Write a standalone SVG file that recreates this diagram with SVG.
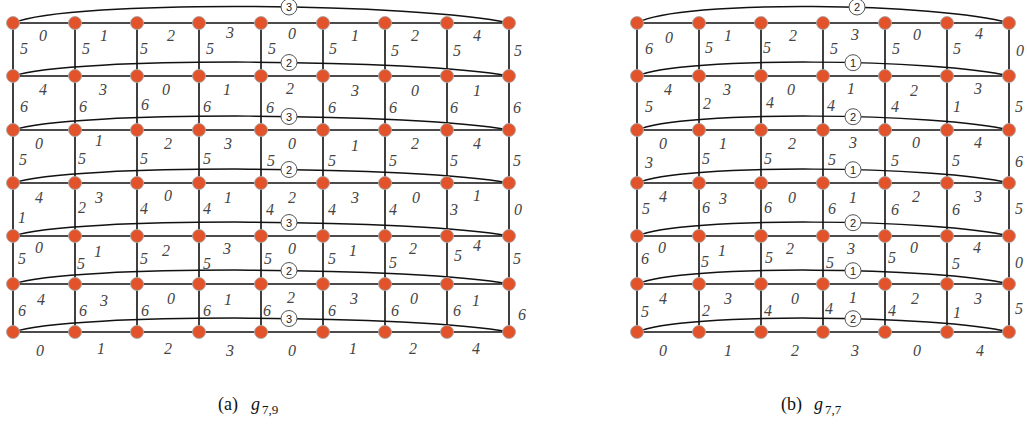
<svg xmlns="http://www.w3.org/2000/svg" width="1027" height="429" viewBox="0 0 1027 429">
<style>
.e{stroke:#111;stroke-width:1.6;fill:none}
.c{stroke:#111;stroke-width:1.5;fill:none}
.n{fill:#E2532B;stroke:#a8a8a8;stroke-width:0.9}
.lb text{font-family:'Liberation Serif','DejaVu Serif','Times New Roman',serif;font-style:italic;font-size:16px;fill:#444;text-anchor:middle}
.cl circle{fill:#fff;stroke:#555;stroke-width:1}
.cl text{font-family:'Liberation Sans','DejaVu Sans',sans-serif;font-size:11px;fill:#222;text-anchor:middle}
.cap text{font-family:'Liberation Serif','DejaVu Serif','Times New Roman',serif;font-size:18px;fill:#111}
.cap .g{font-style:italic}
.cap .s{font-size:13px}
</style>
<g id="connectors">
<g id="a-edges">
<path class="e" d="M13,23H509M13,76H509M13,130H509M13,183H509M13,236H509M13,284H509M13,332H509"/>
<path class="e" d="M13,23V332M75,23V332M137,23V332M199,23V332M261,23V332M323,23V332M385,23V332M447,23V332M509,23V332"/>
<path class="c" d="M13,23C70,-1 420,3 509,23"/>
<path class="c" d="M13,76C70,56 420,59 509,76"/>
<path class="c" d="M13,130C70,110 420,113 509,130"/>
<path class="c" d="M13,183C70,163 420,166 509,183"/>
<path class="c" d="M13,236C70,216 420,219 509,236"/>
<path class="c" d="M13,284C70,264 420,267 509,284"/>
<path class="c" d="M13,332C70,312 420,315 509,332"/>
</g>
<g id="b-edges">
<path class="e" d="M637,23H1009M637,76H1009M637,130H1009M637,183H1009M637,236H1009M637,284H1009M637,332H1009"/>
<path class="e" d="M637,23V332M699,23V332M761,23V332M823,23V332M885,23V332M947,23V332M1009,23V332"/>
<path class="c" d="M637,23C680,-1 940,3 1009,23"/>
<path class="c" d="M637,76C680,56 940,59 1009,76"/>
<path class="c" d="M637,130C680,110 940,113 1009,130"/>
<path class="c" d="M637,183C680,163 940,166 1009,183"/>
<path class="c" d="M637,236C680,216 940,219 1009,236"/>
<path class="c" d="M637,284C680,264 940,267 1009,284"/>
<path class="c" d="M637,332C680,312 940,315 1009,332"/>
</g>
<g class="cl" id="curve-labels">
<circle cx="289" cy="7" r="8"/><text x="289" y="11">3</text>
<circle cx="289" cy="62.5" r="8"/><text x="289" y="66.5">2</text>
<circle cx="289" cy="116.5" r="8"/><text x="289" y="120.5">3</text>
<circle cx="289" cy="169.5" r="8"/><text x="289" y="173.5">2</text>
<circle cx="289" cy="222.5" r="8"/><text x="289" y="226.5">3</text>
<circle cx="289" cy="270.5" r="8"/><text x="289" y="274.5">2</text>
<circle cx="289" cy="318.5" r="8"/><text x="289" y="322.5">3</text>
<circle cx="857" cy="7" r="8"/><text x="857" y="11">2</text>
<circle cx="853" cy="62.7" r="8"/><text x="853" y="66.7">1</text>
<circle cx="853" cy="116.7" r="8"/><text x="853" y="120.7">2</text>
<circle cx="853" cy="169.7" r="8"/><text x="853" y="173.7">1</text>
<circle cx="853" cy="222.7" r="8"/><text x="853" y="226.7">2</text>
<circle cx="853" cy="270.7" r="8"/><text x="853" y="274.7">1</text>
<circle cx="853" cy="318.7" r="8"/><text x="853" y="322.7">2</text>
</g>
</g>
<g id="a-labels" class="lb">
<text x="43" y="41">0</text><text x="104" y="41">1</text><text x="171" y="41">2</text><text x="230" y="38">3</text><text x="292" y="39">0</text><text x="355" y="41">1</text><text x="415" y="41">2</text><text x="477" y="41">4</text>
<text x="43" y="95">4</text><text x="103" y="95">3</text><text x="166" y="95">0</text><text x="227" y="95">1</text><text x="290" y="94">2</text><text x="355" y="96">3</text><text x="415" y="96">0</text><text x="477" y="96">1</text>
<text x="39" y="149">0</text><text x="99" y="146">1</text><text x="168" y="149">2</text><text x="228" y="149">3</text><text x="292" y="149">0</text><text x="355" y="151">1</text><text x="415" y="149">2</text><text x="477" y="149">4</text>
<text x="39" y="203">4</text><text x="99" y="203">3</text><text x="168" y="201">0</text><text x="228" y="203">1</text><text x="292" y="203">2</text><text x="355" y="203">3</text><text x="416" y="203">0</text><text x="477" y="201">1</text>
<text x="39" y="253">0</text><text x="98" y="257">1</text><text x="166" y="256">2</text><text x="227" y="254">3</text><text x="292" y="254">0</text><text x="353" y="256">1</text><text x="413" y="254">2</text><text x="477" y="251">4</text>
<text x="41" y="305">4</text><text x="104" y="306">3</text><text x="171" y="304">0</text><text x="228" y="305">1</text><text x="291" y="303">2</text><text x="354" y="304">3</text><text x="414" y="304">0</text><text x="476" y="306">1</text>
<text x="40" y="356">0</text><text x="101" y="354">1</text><text x="168" y="354">2</text><text x="230" y="356">3</text><text x="292" y="356">0</text><text x="353" y="354">1</text><text x="413" y="354">2</text><text x="476" y="354">4</text>
<text x="24" y="54">5</text><text x="86" y="54">5</text><text x="144" y="54">5</text><text x="210" y="54">5</text><text x="272" y="54">5</text><text x="333" y="54">5</text><text x="395" y="56">5</text><text x="457" y="56">5</text><text x="518" y="56">5</text>
<text x="24" y="112">6</text><text x="83" y="112">6</text><text x="145" y="110">6</text><text x="207" y="112">6</text><text x="270" y="113">6</text><text x="332" y="113">6</text><text x="393" y="113">6</text><text x="454" y="113">6</text><text x="517" y="113">6</text>
<text x="23" y="165">5</text><text x="82" y="164">5</text><text x="144" y="164">5</text><text x="207" y="164">5</text><text x="271" y="166">5</text><text x="332" y="166">5</text><text x="393" y="166">5</text><text x="454" y="166">5</text><text x="517" y="166">5</text>
<text x="22" y="223">1</text><text x="82" y="213">2</text><text x="144" y="214">4</text><text x="207" y="214">4</text><text x="270" y="215">4</text><text x="332" y="215">4</text><text x="393" y="215">4</text><text x="454" y="215">3</text><text x="518" y="215">0</text>
<text x="22" y="264">5</text><text x="81" y="269">5</text><text x="144" y="264">5</text><text x="207" y="269">5</text><text x="268" y="264">5</text><text x="332" y="264">5</text><text x="393" y="268">5</text><text x="458" y="261">5</text><text x="517" y="264">5</text>
<text x="22" y="316">6</text><text x="83" y="316">6</text><text x="145" y="316">6</text><text x="207" y="316">6</text><text x="267" y="316">6</text><text x="332" y="316">6</text><text x="395" y="316">6</text><text x="457" y="316">6</text><text x="522" y="320">6</text>
</g>
<g id="b-labels" class="lb">
<text x="669" y="43">0</text><text x="728" y="41">1</text><text x="793" y="41">2</text><text x="855" y="40">3</text><text x="917" y="40">0</text><text x="979" y="39">4</text>
<text x="668" y="95">4</text><text x="727" y="95">3</text><text x="791" y="95">0</text><text x="851" y="94">1</text><text x="914" y="96">2</text><text x="978" y="94">3</text>
<text x="663" y="149">0</text><text x="723" y="149">1</text><text x="792" y="149">2</text><text x="853" y="148">3</text><text x="916" y="148">0</text><text x="978" y="148">4</text>
<text x="663" y="202">4</text><text x="723" y="204">3</text><text x="792" y="203">0</text><text x="853" y="203">1</text><text x="916" y="202">2</text><text x="978" y="202">3</text>
<text x="662" y="253">0</text><text x="722" y="256">1</text><text x="790" y="254">2</text><text x="851" y="254">3</text><text x="914" y="253">0</text><text x="977" y="253">4</text>
<text x="663" y="304">4</text><text x="728" y="304">3</text><text x="795" y="304">0</text><text x="853" y="303">1</text><text x="915" y="304">2</text><text x="978" y="304">3</text>
<text x="663" y="356">0</text><text x="728" y="356">1</text><text x="795" y="356">2</text><text x="855" y="356">3</text><text x="917" y="356">0</text><text x="980" y="356">4</text>
<text x="649" y="54">6</text><text x="709" y="53">5</text><text x="767" y="53">5</text><text x="834" y="54">5</text><text x="896" y="54">5</text><text x="957" y="54">5</text><text x="1020" y="56">0</text>
<text x="649" y="112">5</text><text x="707" y="109">2</text><text x="770" y="108">4</text><text x="831" y="111">4</text><text x="895" y="112">4</text><text x="957" y="112">1</text><text x="1019" y="112">5</text>
<text x="649" y="168">3</text><text x="706" y="164">5</text><text x="768" y="164">5</text><text x="832" y="165">5</text><text x="895" y="166">5</text><text x="956" y="166">5</text><text x="1019" y="167">6</text>
<text x="646" y="214">5</text><text x="706" y="213">6</text><text x="768" y="213">6</text><text x="832" y="214">6</text><text x="895" y="215">6</text><text x="956" y="215">6</text><text x="1019" y="214">5</text>
<text x="645" y="264">6</text><text x="705" y="267">5</text><text x="769" y="263">5</text><text x="830" y="268">5</text><text x="892" y="263">5</text><text x="956" y="269">5</text><text x="1019" y="268">0</text>
<text x="645" y="317">5</text><text x="706" y="316">2</text><text x="768" y="316">4</text><text x="829" y="314">4</text><text x="892" y="316">4</text><text x="957" y="318">1</text><text x="1019" y="314">5</text>
</g>
<g id="a-nodes">
<g id="a-r0-c0"><circle class="n" cx="13" cy="23" r="6.5"/></g><g id="a-r0-c1"><circle class="n" cx="75" cy="23" r="6.5"/></g><g id="a-r0-c2"><circle class="n" cx="137" cy="23" r="6.5"/></g><g id="a-r0-c3"><circle class="n" cx="199" cy="23" r="6.5"/></g><g id="a-r0-c4"><circle class="n" cx="261" cy="23" r="6.5"/></g><g id="a-r0-c5"><circle class="n" cx="323" cy="23" r="6.5"/></g><g id="a-r0-c6"><circle class="n" cx="385" cy="23" r="6.5"/></g><g id="a-r0-c7"><circle class="n" cx="447" cy="23" r="6.5"/></g><g id="a-r0-c8"><circle class="n" cx="509" cy="23" r="6.5"/></g>
<g id="a-r1-c0"><circle class="n" cx="13" cy="76" r="6.5"/></g><g id="a-r1-c1"><circle class="n" cx="75" cy="76" r="6.5"/></g><g id="a-r1-c2"><circle class="n" cx="137" cy="76" r="6.5"/></g><g id="a-r1-c3"><circle class="n" cx="199" cy="76" r="6.5"/></g><g id="a-r1-c4"><circle class="n" cx="261" cy="76" r="6.5"/></g><g id="a-r1-c5"><circle class="n" cx="323" cy="76" r="6.5"/></g><g id="a-r1-c6"><circle class="n" cx="385" cy="76" r="6.5"/></g><g id="a-r1-c7"><circle class="n" cx="447" cy="76" r="6.5"/></g><g id="a-r1-c8"><circle class="n" cx="509" cy="76" r="6.5"/></g>
<g id="a-r2-c0"><circle class="n" cx="13" cy="130" r="6.5"/></g><g id="a-r2-c1"><circle class="n" cx="75" cy="130" r="6.5"/></g><g id="a-r2-c2"><circle class="n" cx="137" cy="130" r="6.5"/></g><g id="a-r2-c3"><circle class="n" cx="199" cy="130" r="6.5"/></g><g id="a-r2-c4"><circle class="n" cx="261" cy="130" r="6.5"/></g><g id="a-r2-c5"><circle class="n" cx="323" cy="130" r="6.5"/></g><g id="a-r2-c6"><circle class="n" cx="385" cy="130" r="6.5"/></g><g id="a-r2-c7"><circle class="n" cx="447" cy="130" r="6.5"/></g><g id="a-r2-c8"><circle class="n" cx="509" cy="130" r="6.5"/></g>
<g id="a-r3-c0"><circle class="n" cx="13" cy="183" r="6.5"/></g><g id="a-r3-c1"><circle class="n" cx="75" cy="183" r="6.5"/></g><g id="a-r3-c2"><circle class="n" cx="137" cy="183" r="6.5"/></g><g id="a-r3-c3"><circle class="n" cx="199" cy="183" r="6.5"/></g><g id="a-r3-c4"><circle class="n" cx="261" cy="183" r="6.5"/></g><g id="a-r3-c5"><circle class="n" cx="323" cy="183" r="6.5"/></g><g id="a-r3-c6"><circle class="n" cx="385" cy="183" r="6.5"/></g><g id="a-r3-c7"><circle class="n" cx="447" cy="183" r="6.5"/></g><g id="a-r3-c8"><circle class="n" cx="509" cy="183" r="6.5"/></g>
<g id="a-r4-c0"><circle class="n" cx="13" cy="236" r="6.5"/></g><g id="a-r4-c1"><circle class="n" cx="75" cy="236" r="6.5"/></g><g id="a-r4-c2"><circle class="n" cx="137" cy="236" r="6.5"/></g><g id="a-r4-c3"><circle class="n" cx="199" cy="236" r="6.5"/></g><g id="a-r4-c4"><circle class="n" cx="261" cy="236" r="6.5"/></g><g id="a-r4-c5"><circle class="n" cx="323" cy="236" r="6.5"/></g><g id="a-r4-c6"><circle class="n" cx="385" cy="236" r="6.5"/></g><g id="a-r4-c7"><circle class="n" cx="447" cy="236" r="6.5"/></g><g id="a-r4-c8"><circle class="n" cx="509" cy="236" r="6.5"/></g>
<g id="a-r5-c0"><circle class="n" cx="13" cy="284" r="6.5"/></g><g id="a-r5-c1"><circle class="n" cx="75" cy="284" r="6.5"/></g><g id="a-r5-c2"><circle class="n" cx="137" cy="284" r="6.5"/></g><g id="a-r5-c3"><circle class="n" cx="199" cy="284" r="6.5"/></g><g id="a-r5-c4"><circle class="n" cx="261" cy="284" r="6.5"/></g><g id="a-r5-c5"><circle class="n" cx="323" cy="284" r="6.5"/></g><g id="a-r5-c6"><circle class="n" cx="385" cy="284" r="6.5"/></g><g id="a-r5-c7"><circle class="n" cx="447" cy="284" r="6.5"/></g><g id="a-r5-c8"><circle class="n" cx="509" cy="284" r="6.5"/></g>
<g id="a-r6-c0"><circle class="n" cx="13" cy="332" r="6.5"/></g><g id="a-r6-c1"><circle class="n" cx="75" cy="332" r="6.5"/></g><g id="a-r6-c2"><circle class="n" cx="137" cy="332" r="6.5"/></g><g id="a-r6-c3"><circle class="n" cx="199" cy="332" r="6.5"/></g><g id="a-r6-c4"><circle class="n" cx="261" cy="332" r="6.5"/></g><g id="a-r6-c5"><circle class="n" cx="323" cy="332" r="6.5"/></g><g id="a-r6-c6"><circle class="n" cx="385" cy="332" r="6.5"/></g><g id="a-r6-c7"><circle class="n" cx="447" cy="332" r="6.5"/></g><g id="a-r6-c8"><circle class="n" cx="509" cy="332" r="6.5"/></g>
</g>
<g id="b-nodes">
<g id="b-r0-c0"><circle class="n" cx="637" cy="23" r="6.5"/></g><g id="b-r0-c1"><circle class="n" cx="699" cy="23" r="6.5"/></g><g id="b-r0-c2"><circle class="n" cx="761" cy="23" r="6.5"/></g><g id="b-r0-c3"><circle class="n" cx="823" cy="23" r="6.5"/></g><g id="b-r0-c4"><circle class="n" cx="885" cy="23" r="6.5"/></g><g id="b-r0-c5"><circle class="n" cx="947" cy="23" r="6.5"/></g><g id="b-r0-c6"><circle class="n" cx="1009" cy="23" r="6.5"/></g>
<g id="b-r1-c0"><circle class="n" cx="637" cy="76" r="6.5"/></g><g id="b-r1-c1"><circle class="n" cx="699" cy="76" r="6.5"/></g><g id="b-r1-c2"><circle class="n" cx="761" cy="76" r="6.5"/></g><g id="b-r1-c3"><circle class="n" cx="823" cy="76" r="6.5"/></g><g id="b-r1-c4"><circle class="n" cx="885" cy="76" r="6.5"/></g><g id="b-r1-c5"><circle class="n" cx="947" cy="76" r="6.5"/></g><g id="b-r1-c6"><circle class="n" cx="1009" cy="76" r="6.5"/></g>
<g id="b-r2-c0"><circle class="n" cx="637" cy="130" r="6.5"/></g><g id="b-r2-c1"><circle class="n" cx="699" cy="130" r="6.5"/></g><g id="b-r2-c2"><circle class="n" cx="761" cy="130" r="6.5"/></g><g id="b-r2-c3"><circle class="n" cx="823" cy="130" r="6.5"/></g><g id="b-r2-c4"><circle class="n" cx="885" cy="130" r="6.5"/></g><g id="b-r2-c5"><circle class="n" cx="947" cy="130" r="6.5"/></g><g id="b-r2-c6"><circle class="n" cx="1009" cy="130" r="6.5"/></g>
<g id="b-r3-c0"><circle class="n" cx="637" cy="183" r="6.5"/></g><g id="b-r3-c1"><circle class="n" cx="699" cy="183" r="6.5"/></g><g id="b-r3-c2"><circle class="n" cx="761" cy="183" r="6.5"/></g><g id="b-r3-c3"><circle class="n" cx="823" cy="183" r="6.5"/></g><g id="b-r3-c4"><circle class="n" cx="885" cy="183" r="6.5"/></g><g id="b-r3-c5"><circle class="n" cx="947" cy="183" r="6.5"/></g><g id="b-r3-c6"><circle class="n" cx="1009" cy="183" r="6.5"/></g>
<g id="b-r4-c0"><circle class="n" cx="637" cy="236" r="6.5"/></g><g id="b-r4-c1"><circle class="n" cx="699" cy="236" r="6.5"/></g><g id="b-r4-c2"><circle class="n" cx="761" cy="236" r="6.5"/></g><g id="b-r4-c3"><circle class="n" cx="823" cy="236" r="6.5"/></g><g id="b-r4-c4"><circle class="n" cx="885" cy="236" r="6.5"/></g><g id="b-r4-c5"><circle class="n" cx="947" cy="236" r="6.5"/></g><g id="b-r4-c6"><circle class="n" cx="1009" cy="236" r="6.5"/></g>
<g id="b-r5-c0"><circle class="n" cx="637" cy="284" r="6.5"/></g><g id="b-r5-c1"><circle class="n" cx="699" cy="284" r="6.5"/></g><g id="b-r5-c2"><circle class="n" cx="761" cy="284" r="6.5"/></g><g id="b-r5-c3"><circle class="n" cx="823" cy="284" r="6.5"/></g><g id="b-r5-c4"><circle class="n" cx="885" cy="284" r="6.5"/></g><g id="b-r5-c5"><circle class="n" cx="947" cy="284" r="6.5"/></g><g id="b-r5-c6"><circle class="n" cx="1009" cy="284" r="6.5"/></g>
<g id="b-r6-c0"><circle class="n" cx="637" cy="332" r="6.5"/></g><g id="b-r6-c1"><circle class="n" cx="699" cy="332" r="6.5"/></g><g id="b-r6-c2"><circle class="n" cx="761" cy="332" r="6.5"/></g><g id="b-r6-c3"><circle class="n" cx="823" cy="332" r="6.5"/></g><g id="b-r6-c4"><circle class="n" cx="885" cy="332" r="6.5"/></g><g id="b-r6-c5"><circle class="n" cx="947" cy="332" r="6.5"/></g><g id="b-r6-c6"><circle class="n" cx="1009" cy="332" r="6.5"/></g>
</g>
<g id="captions" class="cap">
<text x="218" y="410">(a)</text><text class="g" x="251" y="410">g</text><text class="s" x="262" y="414">7,9</text>
<text x="781" y="410">(b)</text><text class="g" x="814" y="410">g</text><text class="s" x="825" y="414">7,7</text>
</g>
</svg>
